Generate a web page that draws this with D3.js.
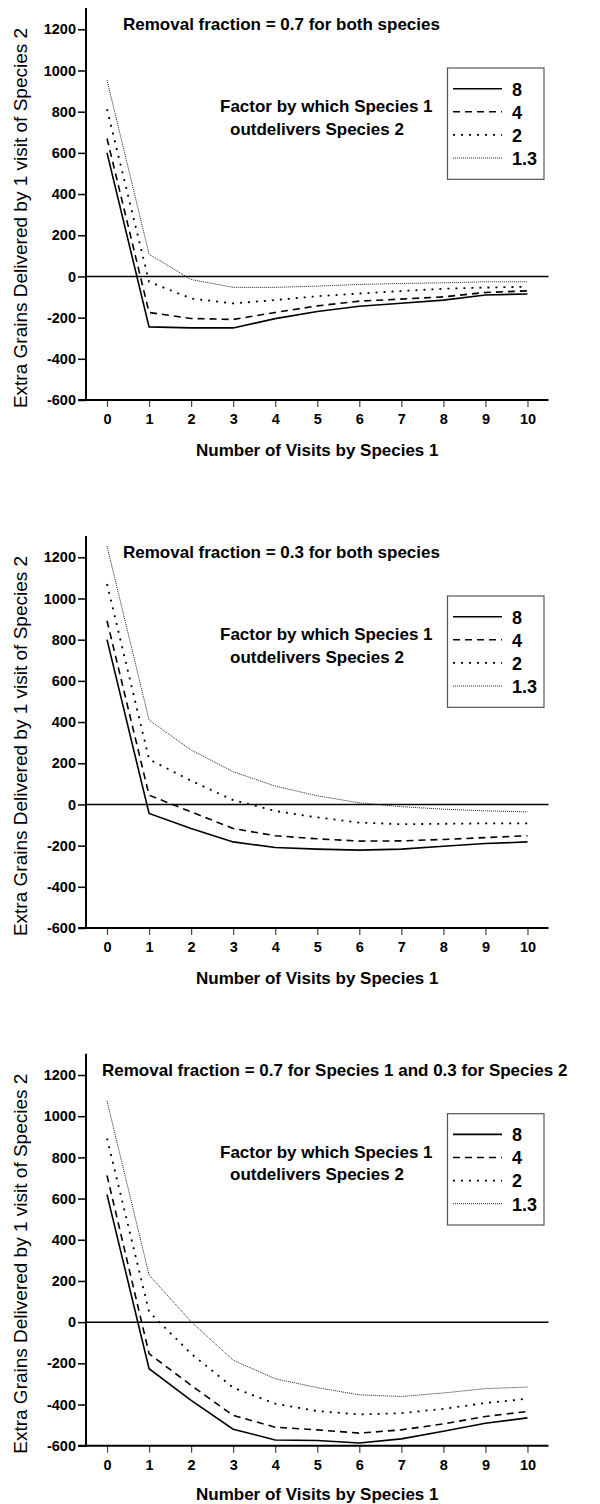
<!DOCTYPE html>
<html>
<head>
<meta charset="utf-8">
<script src="https://cdn.jsdelivr.net/npm/d3@7"></script>
<style>
  body { margin: 0; background: #fff; }
  svg { display: block; font-family: Arial, "Liberation Sans", Helvetica, sans-serif; }
</style>
</head>
<body>
<div id="chart"></div>
<script>
/* data */
var visits = [0, 1, 2, 3, 4, 5, 6, 7, 8, 9, 10];
var factors = ["8", "4", "2", "1.3"];
var yTicks = [-600, -400, -200, 0, 200, 400, 600, 800, 1000, 1200];

var titles = [
	"Removal fraction = 0.7 for both species",
	"Removal fraction = 0.3 for both species",
	"Removal fraction = 0.7 for Species 1 and 0.3 for Species 2"
];

/* panel A: 0.7 / 0.7 */
var a8  = [600, -245, -250, -250, -205, -170, -145, -130, -115, -90, -85];
var a4  = [670, -175, -204, -209, -175, -143, -120, -110, -99, -78, -70];
var a2  = [812, -26, -107, -131, -115, -96, -83, -71, -60, -54, -50];
var a13 = [953, 108, -15, -53, -53, -47, -39, -34, -31, -26, -26];

/* panel B: 0.3 / 0.3 */
var b8  = [800, -44, -117, -182, -209, -217, -222, -217, -203, -190, -182];
var b4  = [892, 45, -36, -117, -152, -167, -178, -177, -170, -161, -152];
var b2  = [1070, 219, 115, 21, -32, -63, -88, -96, -94, -92, -92];
var b13 = [1254, 410, 264, 159, 89, 42, 8, -11, -23, -31, -36];

/* panel C: 0.7 / 0.3 */
var c8  = [619, -226, -380, -520, -572, -575, -587, -567, -530, -491, -465];
var c4  = [712, -153, -307, -453, -510, -523, -539, -523, -494, -458, -434];
var c2  = [892, 50, -153, -318, -396, -432, -448, -442, -421, -393, -372];
var c13 = [1074, 229, 2, -185, -275, -318, -353, -361, -344, -323, -315];

var panels = [
	{ title: titles[0], titleX: 123, top: 0,      xTitleY: 456, series: [a8, a4, a2, a13] },
	{ title: titles[1], titleX: 123, top: 528,    xTitleY: 456, series: [b8, b4, b2, b13] },
	{ title: titles[2], titleX: 102, top: 1045.7, xTitleY: 454.3, series: [c8, c4, c2, c13] }
];

/* line styles for the four factors */
var styles = [
	{ dash: null,  width: 1.6, color: "#000" },
	{ dash: "7,5", width: 1.6, color: "#000" },
	{ dash: "2,6", width: 1.8, color: "#000" },
	{ dash: "1,1", width: 1,   color: "#222" }
];

var width = 600,
    height = 1504;

var svg = d3.select("#chart")
	.append("svg")
	.attr("width", width)
	.attr("height", height);

var x = d3.scaleLinear()
	.domain([-0.5, 10.5])
	.range([86, 548.5]);

var y = d3.scaleLinear()
	.domain([-600, 1200])
	.range([400, 29.3]);

var drawPanel = function(p) {
	var g = svg.append("g")
		.attr("transform", "translate(0," + p.top + ")");

	/* y axis */
	var yAxis = g.append("g")
		.attr("transform", "translate(" + x.range()[0] + ",0)")
		.call(d3.axisLeft(y)
			.tickValues(yTicks)
			.tickSize(8)
			.tickPadding(2)
			.tickSizeOuter(0)
			.tickFormat(function(d) { return String(d); }));
	yAxis.select(".domain").remove();
	yAxis.selectAll(".tick line").attr("stroke", "#000").attr("stroke-width", 1.5);
	yAxis.selectAll(".tick text")
		.attr("font-size", 14.5)
		.attr("font-weight", "bold")
		.attr("fill", "#000");

	/* x axis */
	var xAxis = g.append("g")
		.attr("transform", "translate(0," + y.range()[0] + ")")
		.call(d3.axisBottom(x)
			.tickValues(visits)
			.tickSize(7)
			.tickPadding(7)
			.tickSizeOuter(0));
	xAxis.select(".domain").remove();
	xAxis.selectAll(".tick line").attr("stroke", "#444").attr("stroke-width", 1.2);
	xAxis.selectAll(".tick text")
		.attr("font-size", 14.5)
		.attr("font-weight", "bold")
		.attr("fill", "#000");

	/* axis lines */
	g.append("line")
		.attr("x1", x.range()[0]).attr("x2", x.range()[0])
		.attr("y1", 8).attr("y2", y.range()[0] + 1)
		.attr("stroke", "#000").attr("stroke-width", 2);
	g.append("line")
		.attr("x1", 78).attr("x2", x.range()[1])
		.attr("y1", y.range()[0]).attr("y2", y.range()[0])
		.attr("stroke", "#000").attr("stroke-width", 2);

	/* zero line */
	g.append("line")
		.attr("x1", x.range()[0]).attr("x2", x.range()[1])
		.attr("y1", y(0)).attr("y2", y(0))
		.attr("stroke", "#000").attr("stroke-width", 1.5);

	/* series */
	var line = d3.line()
		.x(function(d, i) { return x(visits[i]); })
		.y(function(d) { return y(d); });

	g.selectAll(".series")
		.data(p.series)
		.enter().append("path")
			.attr("class", "series")
			.attr("d", line)
			.attr("fill", "none")
			.attr("stroke", function(d, i) { return styles[i].color; })
			.attr("stroke-width", function(d, i) { return styles[i].width; })
			.attr("stroke-dasharray", function(d, i) { return styles[i].dash; });

	/* titles */
	g.append("text")
		.attr("x", p.titleX)
		.attr("y", 30)
		.attr("font-size", 17)
		.attr("font-weight", "bold")
		.text(p.title);

	g.append("text")
		.attr("x", 220)
		.attr("y", 112)
		.attr("font-size", 17)
		.attr("font-weight", "bold")
		.text("Factor by which Species 1");

	g.append("text")
		.attr("x", 230)
		.attr("y", 134.5)
		.attr("font-size", 17)
		.attr("font-weight", "bold")
		.text("outdelivers Species 2");

	g.append("text")
		.attr("transform", "translate(27,218) rotate(-90)")
		.attr("text-anchor", "middle")
		.attr("font-size", 19)
		.text("Extra Grains Delivered by 1 visit of Species 2");

	g.append("text")
		.attr("x", (x.range()[0] + x.range()[1]) / 2)
		.attr("y", p.xTitleY)
		.attr("text-anchor", "middle")
		.attr("font-size", 17)
		.attr("font-weight", "bold")
		.text("Number of Visits by Species 1");

	/* legend */
	g.append("rect")
		.attr("x", 447.5)
		.attr("y", 68)
		.attr("width", 96.5)
		.attr("height", 111.3)
		.attr("fill", "#fff")
		.attr("stroke", "#555")
		.attr("stroke-width", 1.2);

	var legend = g.selectAll(".legend")
		.data(factors)
		.enter().append("g")
			.attr("class", "legend")
			.attr("transform", function(d, i) { return "translate(0," + (88.7 + i * 23.1) + ")"; });

	legend.append("line")
		.attr("x1", 453)
		.attr("x2", 502)
		.attr("stroke", function(d, i) { return styles[i].color; })
		.attr("stroke-width", function(d, i) { return styles[i].width; })
		.attr("stroke-dasharray", function(d, i) { return styles[i].dash; });

	legend.append("text")
		.attr("x", 512)
		.attr("y", 6.8)
		.attr("font-size", 18)
		.attr("font-weight", "bold")
		.text(function(d) { return d; });
}

panels.forEach(drawPanel);
</script>
</body>
</html>
